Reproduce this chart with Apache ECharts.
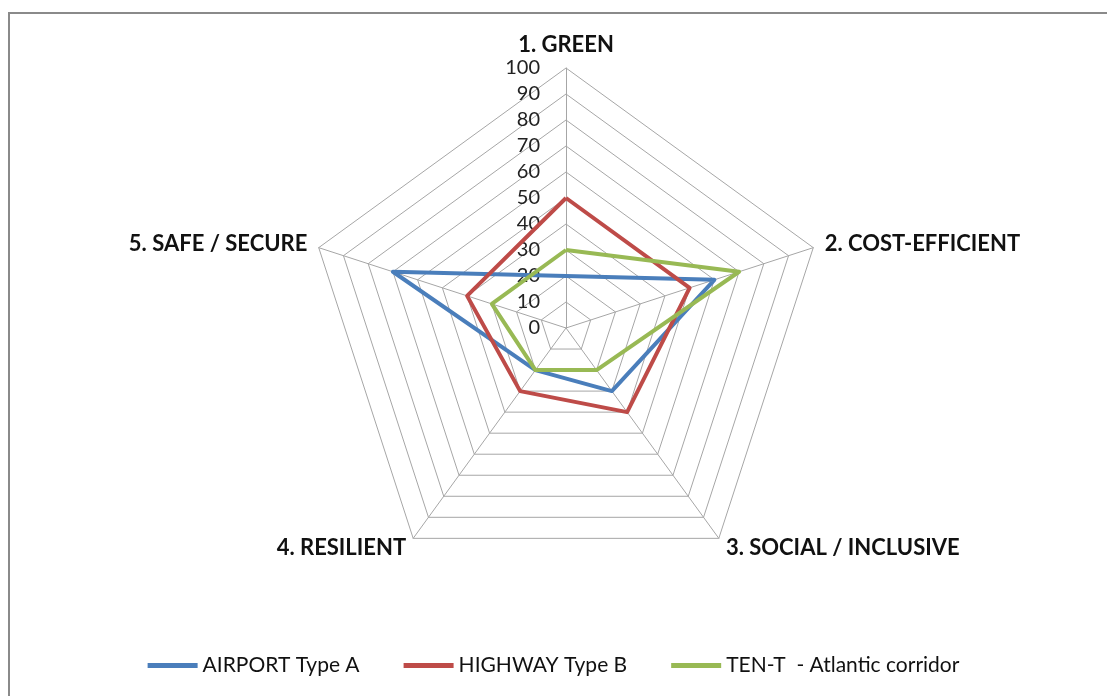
<!DOCTYPE html>
<html>
<head>
<meta charset="utf-8">
<script src="https://cdn.jsdelivr.net/npm/echarts@6/dist/echarts.min.js"></script>
<style>
html,body{margin:0;padding:0;background:#fff;overflow:hidden;}
#frame{position:absolute;left:8px;top:12px;width:1200px;height:800px;border-left:2px solid #8a8a8a;border-top:2px solid #8a8a8a;}
#chart{position:absolute;left:0;top:0;width:1107px;height:696px;}
</style>
</head>
<body>
<div id="frame"></div>
<div id="chart"></div>
<script>
const dimensions = ['1. GREEN', '2. COST-EFFICIENT', '3. SOCIAL / INCLUSIVE', '4. RESILIENT', '5. SAFE / SECURE'];
const seriesNames = ['AIRPORT Type A', 'HIGHWAY Type B', 'TEN-T  - Atlantic corridor'];
const airport = [20, 60, 30, 20, 70];
const highway = [50, 50, 40, 30, 40];
const tent = [30, 70, 20, 20, 30];
const axisMax = 100;
const axisStep = 10;

// ECharts radar runs counter-clockwise; reorder so the dimensions run clockwise like the reference
const order = [0, 4, 3, 2, 1];
const colors = ['#4A7EBB', '#BE4B48', '#98B954'];
const chart = echarts.init(document.getElementById('chart'));
const indicator = order.map((k, i) => {
  const o = { name: dimensions[k], min: 0, max: axisMax };
  if (i === 0) {
    o.axisLabel = { show: true, margin: 26, color: '#222', fontFamily: 'Lato', fontSize: 20, showMinLabel: true, showMaxLabel: true };
  }
  return o;
});
const values = [airport, highway, tent];
chart.setOption({
  animation: false,
  color: colors,
  legend: {
    bottom: 15,
    left: 'center',
    icon: 'rect',
    itemWidth: 50,
    itemHeight: 5,
    itemGap: 44,
    textStyle: { fontFamily: 'Lato', fontSize: 21, color: '#111' },
    data: seriesNames
  },
  radar: {
    center: [566, 328],
    radius: 260,
    startAngle: 90,
    splitNumber: axisMax / axisStep,
    shape: 'polygon',
    nameGap: 12,
    axisName: { color: '#111', fontFamily: 'Lato', fontWeight: 'bold', fontSize: 22 },
    axisLine: { lineStyle: { color: '#a6a6a6', width: 1 } },
    splitLine: { lineStyle: { color: '#a6a6a6', width: 1 } },
    splitArea: { show: false },
    axisLabel: { show: false },
    indicator: indicator
  },
  series: [{
    type: 'radar',
    symbol: 'none',
    data: seriesNames.map((n, i) => ({
      name: n,
      value: order.map(k => values[i][k]),
      lineStyle: { width: 4, color: colors[i] },
      itemStyle: { color: colors[i] }
    }))
  }]
});
</script>
</body>
</html>
